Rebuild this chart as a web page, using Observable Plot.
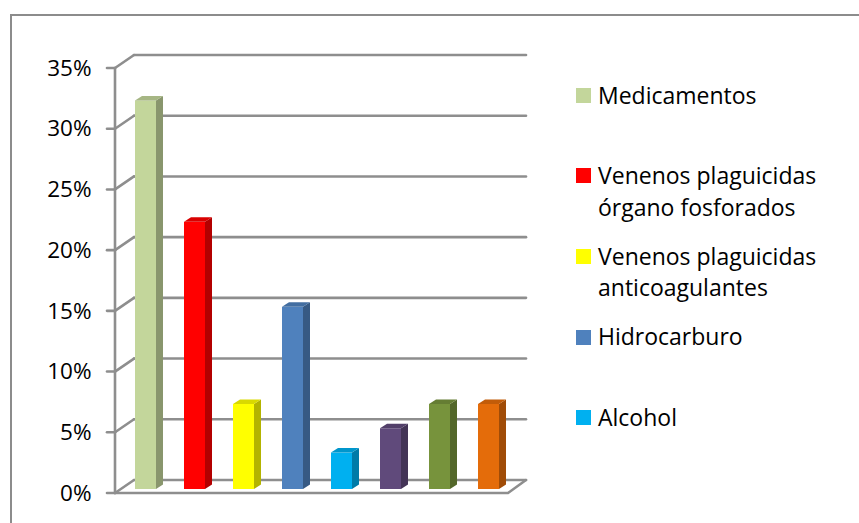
<!DOCTYPE html>
<html>
<head>
<meta charset="utf-8">
<script src="https://cdn.jsdelivr.net/npm/d3@7"></script>
<script src="https://cdn.jsdelivr.net/npm/@observablehq/plot@0.6"></script>
<style>
  html, body { margin: 0; padding: 0; background: #fff; overflow: hidden; width: 859px; height: 523px; }
  #wrap { position: relative; width: 859px; height: 523px; overflow: hidden; }
  #border { position: absolute; left: 10px; top: 14px; width: 900px; height: 600px;
            border-left: 2px solid #8c8c8c; border-top: 2px solid #8c8c8c; }
  #chart { position: absolute; left: 0; top: 0; }
  #legend { position: absolute; left: 576px; top: 79.5px; width: 275px;
            font-family: "Open Sans", sans-serif; font-size: 23px; line-height: 31.5px; color: #000; }
  .item { display: flex; align-items: flex-start; height: 80.6px; }
  .sw { width: 15px; height: 15px; margin-top: 8.4px; margin-right: 7px; flex: none; }
  .lab { width: 250px; }
</style>
</head>
<body>
<div id="wrap">
  <div id="border"></div>
  <div id="chart"></div>
  <div id="legend"></div>
</div>
<script>
// Tipos de intoxicación (porcentaje de casos)
const categories = [
  "Medicamentos",
  "Venenos plaguicidas órgano fosforados",
  "Venenos plaguicidas anticoagulantes",
  "Hidrocarburo",
  "Alcohol",
  "Serie 6",
  "Serie 7",
  "Serie 8"
];
const values = [0.32, 0.22, 0.07, 0.15, 0.03, 0.05, 0.07, 0.07];
const colors = ["#C3D69B", "#FF0000", "#FFFF00", "#4F81BD", "#00B0F0", "#604A7B", "#77933C", "#E46C0A"];
const yTicks = [0, 0.05, 0.10, 0.15, 0.20, 0.25, 0.30, 0.35];
// only the first entries fit in the legend box
const legendCount = 5;

const data = categories.map((category, i) => ({category, value: values[i], color: colors[i]}));

// 3D walls: back gridlines, side-wall diagonals, front axis with ticks, floor
function walls(index, scales, values, dimensions) {
  const {y} = scales;
  const {marginLeft, marginRight, width} = dimensions;
  const x0 = marginLeft, x1 = width - marginRight;
  const ax = x0 - 6, bx0 = x0 + 13, bx1 = x1 + 13;
  const fy = (v) => y(v) + 4, by = (v) => y(v) - 9;
  const g = d3.create("svg:g")
    .attr("fill", "none")
    .attr("stroke", "#8e8e8e")
    .attr("stroke-width", 2.6)
    .attr("stroke-linecap", "round");
  for (const t of yTicks) {
    g.append("line").attr("x1", bx0).attr("x2", bx1).attr("y1", by(t)).attr("y2", by(t));
    g.append("line").attr("x1", ax - 8).attr("x2", ax).attr("y1", fy(t)).attr("y2", fy(t));
    g.append("line").attr("x1", ax).attr("x2", bx0).attr("y1", fy(t)).attr("y2", by(t));
  }
  const top = d3.max(yTicks);
  g.append("line").attr("x1", ax).attr("x2", ax).attr("y1", fy(top)).attr("y2", fy(0));
  g.append("polyline")
    .attr("points", [[ax, fy(0)], [x1 - 5, fy(0)], [bx1, by(0)]].join(" "));
  return g.node();
}

// side and top faces that give each bar its depth
function barDepth(index, scales) {
  const {x, y} = scales;
  const bw = typeof x.bandwidth === "function" ? x.bandwidth() : x.bandwidth;
  const dx = 7, dy = -4.5;
  const g = d3.create("svg:g");
  for (const d of data) {
    const xl = x(d.category), xr = xl + bw, yt = y(d.value), yb = y(0);
    const c = d3.color(d.color);
    g.append("polygon")
      .attr("points", [[xr, yt], [xr + dx, yt + dy], [xr + dx, yb + dy], [xr, yb]].join(" "))
      .attr("fill", c.darker(1).formatHex());
    g.append("polygon")
      .attr("points", [[xl, yt], [xl + dx, yt + dy], [xr + dx, yt + dy], [xr, yt]].join(" "))
      .attr("fill", c.darker(0.45).formatHex());
  }
  return g.node();
}

const chart = Plot.plot({
  width: 859,
  height: 523,
  marginLeft: 121,
  marginRight: 346,
  marginTop: 64,
  marginBottom: 34,
  style: {fontFamily: "Open Sans, sans-serif", background: "transparent", overflow: "visible"},
  x: {domain: categories, paddingInner: 0.57, paddingOuter: 0.285, axis: null},
  y: {domain: [0, 0.35], axis: null},
  color: {type: "identity"},
  marks: [
    walls,
    Plot.barY(data, {x: "category", y: "value", fill: "color"}),
    barDepth,
    Plot.text(yTicks, {
      y: (d) => d,
      text: (d) => d3.format(".0%")(d),
      frameAnchor: "left",
      textAnchor: "end",
      dx: -30,
      dy: 4,
      fontSize: 22.5,
      fill: "#000"
    })
  ]
});
document.getElementById("chart").appendChild(chart);

const legend = d3.select("#legend");
for (const d of data.slice(0, legendCount)) {
  const item = legend.append("div").attr("class", "item");
  item.append("div").attr("class", "sw").style("background", d.color);
  item.append("div").attr("class", "lab").text(d.category);
}
</script>
</body>
</html>
